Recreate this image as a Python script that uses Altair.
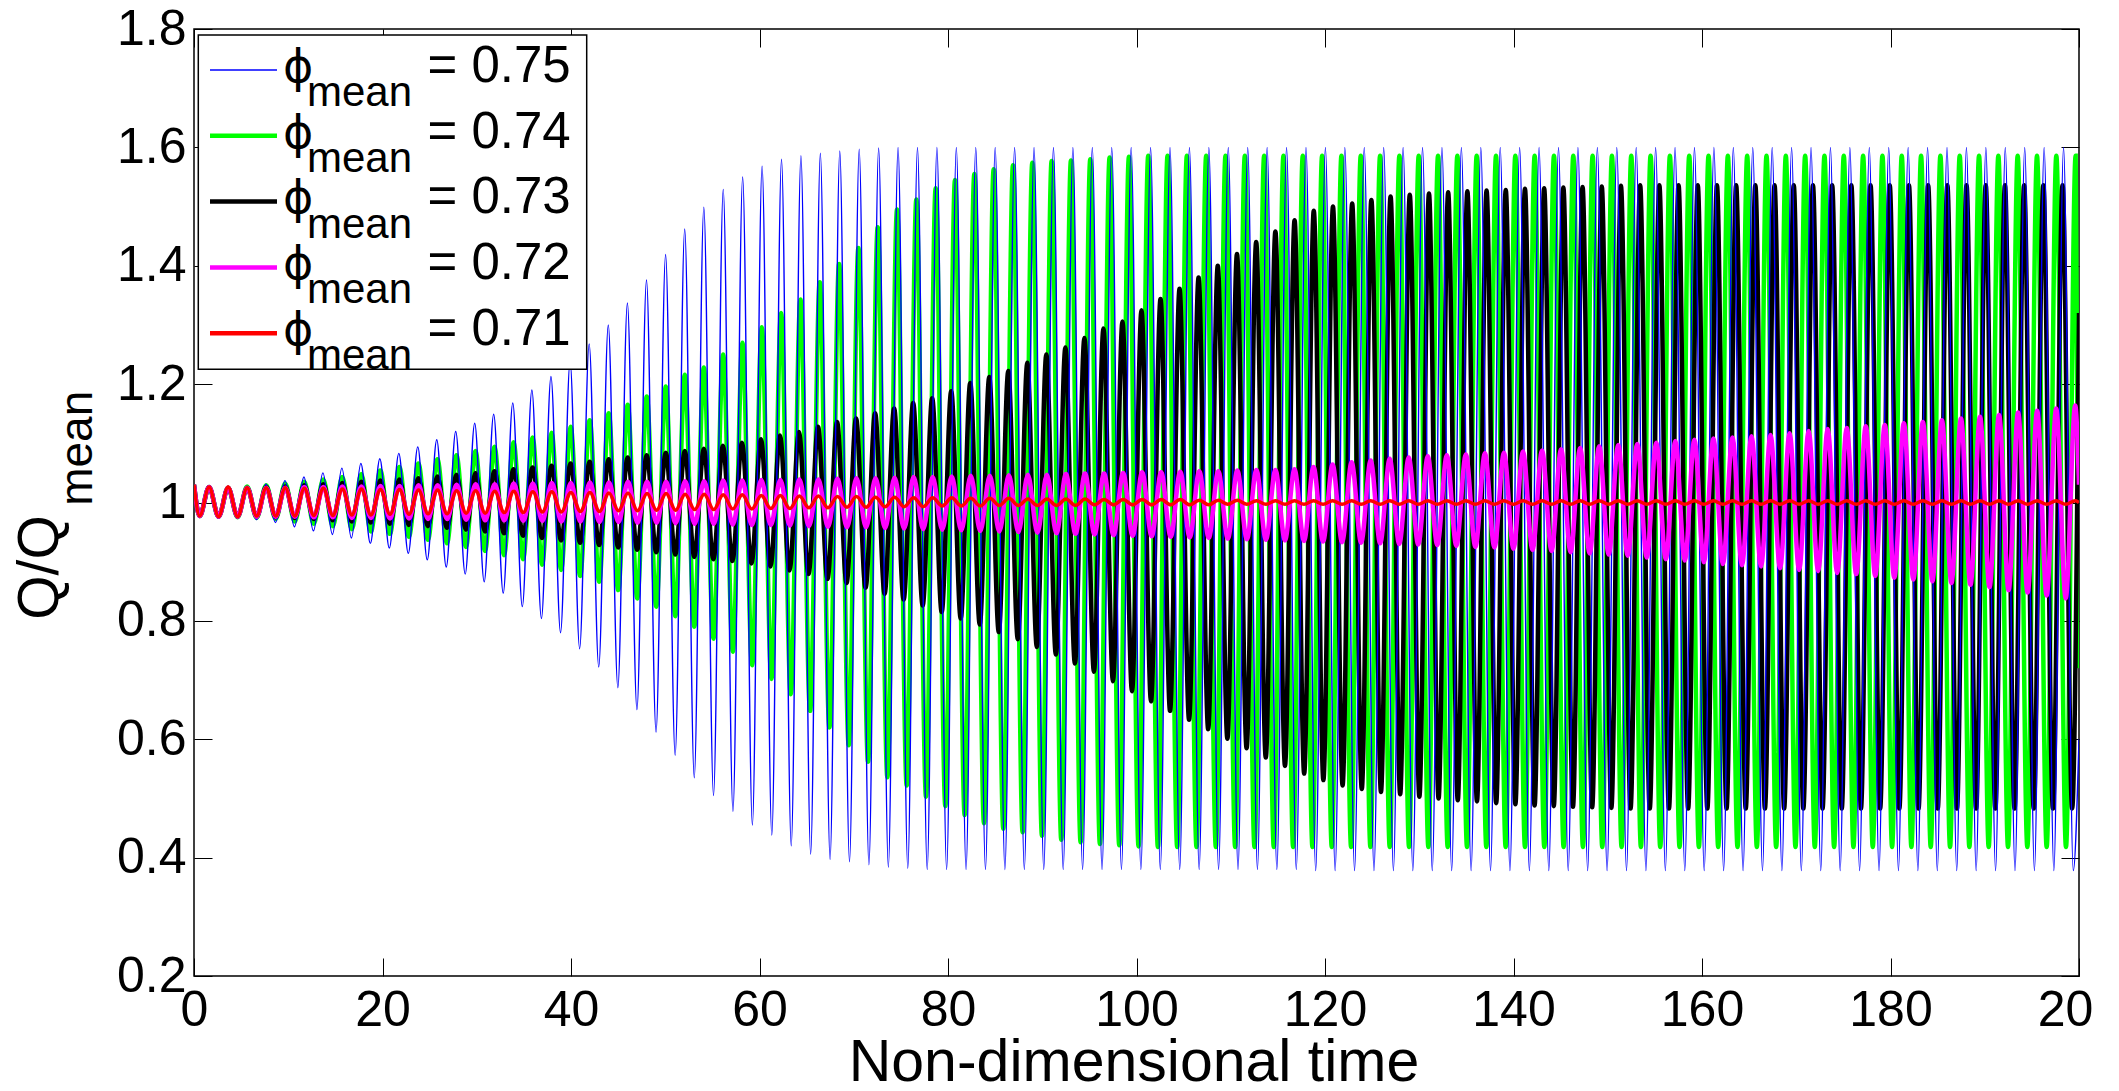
import altair as alt
import pandas as pd

# ---------------- values ----------------
START_T = [0.0, 0.6]          # common start of every run
START_V = [1.03, 0.977]
FIRST_PEAK_T = 1.6

# (number of cycles, period) segments, read from the peak positions
BLUE_PERIODS = [(15, 2.013), (11, 2.027), (70, 2.061)]
GREEN_PERIODS = [(26, 2.019), (71, 2.05)]
BLACK_PERIODS = [(52, 2.019), (45, 2.037)]
MAGENTA_PERIODS = [(98, 2.0204)]
RED_PERIODS = [(98, 2.0204)]

# phi_mean = 0.75 (blue)
BLUE_PEAKS = ([1.026, 1.025, 1.027, 1.031, 1.037, 1.043, 1.050, 1.058, 1.066, 1.074,
               1.083, 1.094, 1.106, 1.120, 1.134, 1.149, 1.168, 1.190, 1.213, 1.238,
               1.268, 1.300, 1.337, 1.376, 1.419, 1.462, 1.499, 1.529, 1.550, 1.568,
               1.580, 1.586, 1.590, 1.594, 1.597, 1.599] + [1.600] * 61)
BLUE_TROUGHS = ([0.976, 0.975, 0.971, 0.966, 0.959, 0.952, 0.946, 0.940, 0.931, 0.923,
                 0.914, 0.903, 0.891, 0.879, 0.866, 0.847, 0.824, 0.804, 0.780, 0.753,
                 0.722, 0.687, 0.650, 0.612, 0.573, 0.535, 0.505, 0.478, 0.455, 0.438,
                 0.420, 0.406, 0.397, 0.393, 0.388, 0.384, 0.382] + [0.380] * 20 + [0.378] * 40)
BLUE_END = 0.60

# phi_mean = 0.74 (green)
GREEN_PEAKS = ([1.026, 1.025, 1.027, 1.029, 1.032, 1.035, 1.039, 1.043, 1.048, 1.054,
                1.060, 1.066, 1.073, 1.080, 1.087, 1.094, 1.102, 1.110, 1.118, 1.128,
                1.139, 1.151, 1.165, 1.179, 1.196, 1.216, 1.228, 1.250, 1.270, 1.296,
                1.320, 1.343, 1.372, 1.403, 1.430, 1.465, 1.495, 1.512, 1.531, 1.545,
                1.555, 1.563, 1.570, 1.574, 1.577, 1.578, 1.580, 1.583, 1.584] + [1.586] * 49)
GREEN_TROUGHS = ([0.976, 0.975, 0.974, 0.972, 0.968, 0.964, 0.960, 0.955, 0.951, 0.947,
                  0.942, 0.937, 0.931, 0.925, 0.918, 0.911, 0.904, 0.895, 0.886, 0.876,
                  0.866, 0.852, 0.838, 0.824, 0.808, 0.790, 0.770, 0.748, 0.725, 0.702,
                  0.676, 0.648, 0.620, 0.590, 0.562, 0.536, 0.522, 0.503, 0.487, 0.472,
                  0.458, 0.449, 0.443, 0.437, 0.430, 0.426, 0.423, 0.421, 0.419] + [0.418] * 49)
GREEN_END = 0.72

# phi_mean = 0.73 (black)
BLACK_PEAKS = ([1.026, 1.025, 1.025, 1.026, 1.027, 1.029, 1.031, 1.033, 1.035, 1.037,
                1.039, 1.041, 1.044, 1.047, 1.050, 1.053, 1.056, 1.059, 1.062, 1.066,
                1.069, 1.073, 1.076, 1.080, 1.084, 1.087, 1.091, 1.096, 1.101, 1.107,
                1.113, 1.119, 1.128, 1.136, 1.142, 1.151, 1.159, 1.168, 1.176, 1.188,
                1.202, 1.212, 1.222, 1.236, 1.250, 1.262, 1.278, 1.294, 1.306, 1.325,
                1.344, 1.361, 1.380, 1.400, 1.420, 1.440, 1.458, 1.477, 1.493, 1.500,
                1.505, 1.511, 1.517, 1.520, 1.522, 1.524, 1.526, 1.527, 1.528, 1.530,
                1.531, 1.532, 1.533, 1.534, 1.535] + [1.536] * 23)
BLACK_TROUGHS = ([0.976, 0.976, 0.976, 0.975, 0.974, 0.972, 0.970, 0.968, 0.966, 0.964,
                  0.962, 0.960, 0.957, 0.954, 0.951, 0.948, 0.944, 0.940, 0.936, 0.932,
                  0.928, 0.924, 0.920, 0.916, 0.912, 0.908, 0.904, 0.901, 0.897, 0.892,
                  0.885, 0.879, 0.871, 0.864, 0.856, 0.846, 0.836, 0.826, 0.815, 0.804,
                  0.794, 0.781, 0.769, 0.756, 0.743, 0.728, 0.714, 0.698, 0.681, 0.664,
                  0.648, 0.633, 0.617, 0.601, 0.585, 0.569, 0.555, 0.542, 0.531, 0.522,
                  0.516, 0.511, 0.507, 0.503, 0.500, 0.497, 0.495, 0.492, 0.490, 0.488,
                  0.487, 0.486, 0.485, 0.484] + [0.483] * 24)
BLACK_END = 1.32

# phi_mean = 0.72 (magenta)
MAGENTA_PEAKS = [1.026, 1.025, 1.025, 1.025, 1.025, 1.026, 1.026, 1.027, 1.027, 1.028,
                 1.028, 1.029, 1.029, 1.030, 1.031, 1.031, 1.032, 1.032, 1.033, 1.033,
                 1.034, 1.034, 1.035, 1.035, 1.035, 1.036, 1.036, 1.037, 1.037, 1.038,
                 1.038, 1.039, 1.039, 1.040, 1.041, 1.041, 1.042, 1.043, 1.043, 1.044,
                 1.045, 1.045, 1.046, 1.047, 1.047, 1.048, 1.049, 1.049, 1.050, 1.051,
                 1.051, 1.052, 1.053, 1.053, 1.054, 1.055, 1.055, 1.056,
                 1.060, 1.064, 1.068, 1.071, 1.074, 1.076, 1.078, 1.080, 1.081, 1.083,
                 1.084, 1.086, 1.088, 1.090, 1.092, 1.095, 1.097, 1.099, 1.101, 1.104,
                 1.106, 1.108, 1.110, 1.112, 1.114, 1.117,
                 1.121, 1.124, 1.126, 1.129, 1.131, 1.134, 1.136, 1.139, 1.142, 1.145,
                 1.148, 1.152, 1.155, 1.159, 1.164]
MAGENTA_TROUGHS = [0.976, 0.976, 0.976, 0.976, 0.976, 0.975, 0.975, 0.974, 0.974, 0.973,
                   0.973, 0.972, 0.972, 0.971, 0.970, 0.970, 0.969, 0.969, 0.968, 0.968,
                   0.967, 0.967, 0.966, 0.966, 0.965, 0.964, 0.964, 0.963, 0.962, 0.962,
                   0.961, 0.960, 0.959, 0.958, 0.958, 0.957, 0.956, 0.955, 0.954, 0.953,
                   0.952, 0.951, 0.950, 0.949, 0.948, 0.947, 0.946, 0.945, 0.944, 0.943,
                   0.942, 0.941, 0.940, 0.939, 0.938, 0.937, 0.936, 0.935,
                   0.934, 0.933, 0.932, 0.931, 0.930, 0.929, 0.928, 0.927, 0.925, 0.924,
                   0.922, 0.920, 0.918, 0.916, 0.914, 0.912, 0.910, 0.907, 0.904, 0.902,
                   0.899, 0.896, 0.894, 0.892, 0.889, 0.886,
                   0.884, 0.881, 0.879, 0.876, 0.873, 0.870, 0.867, 0.864, 0.861, 0.857,
                   0.852, 0.848, 0.843, 0.838, 0.834]
MAGENTA_END = 1.03

# phi_mean = 0.71 (red)
RED_PEAKS = ([1.026, 1.026, 1.025, 1.025, 1.025, 1.024, 1.024, 1.023, 1.023, 1.022,
              1.022, 1.021, 1.021, 1.020, 1.020, 1.019, 1.019, 1.018, 1.018, 1.017,
              1.017, 1.016, 1.016, 1.015, 1.015, 1.014, 1.014, 1.013, 1.013, 1.012,
              1.012, 1.011, 1.011, 1.010, 1.010, 1.009, 1.009, 1.008, 1.008, 1.008,
              1.007, 1.007, 1.007, 1.006, 1.006, 1.006, 1.006, 1.005, 1.005, 1.005,
              1.005, 1.005, 1.004, 1.004, 1.004] + [1.003] * 44)
RED_TROUGHS = ([0.976, 0.976, 0.977, 0.977, 0.977, 0.978, 0.978, 0.979, 0.979, 0.980,
                0.980, 0.981, 0.981, 0.982, 0.982, 0.983, 0.983, 0.984, 0.984, 0.985,
                0.985, 0.986, 0.986, 0.987, 0.987, 0.988, 0.988, 0.989, 0.989, 0.990,
                0.990, 0.991, 0.991, 0.992, 0.992, 0.993, 0.993, 0.993, 0.994, 0.994,
                0.994, 0.995, 0.995, 0.995, 0.995, 0.995, 0.996, 0.996, 0.996, 0.996,
                0.996, 0.996, 0.996, 0.997, 0.997] + [0.997] * 44)
RED_END = 1.0

X_TICKS = [0, 20, 40, 60, 80, 100, 120, 140, 160, 180, 200]
Y_TICKS = [0.2, 0.4, 0.6, 0.8, 1.0, 1.2, 1.4, 1.6, 1.8]
LEGEND_VALUES = ["0.75", "0.74", "0.73", "0.72", "0.71"]
X_TITLE = "Non-dimensional time"
T_END = 200.0


def build(peaks, troughs, periods, end_value):
    times = [FIRST_PEAK_T]
    for count, period in periods:
        for _ in range(count):
            times.append(times[-1] + period)
    rows = list(zip(START_T, START_V))
    last_period = periods[-1][1]
    for i, (tp, pv, tv) in enumerate(zip(times, peaks, troughs)):
        nxt = times[i + 1] if i + 1 < len(times) else tp + last_period
        rows.append((tp, pv))
        rows.append(((tp + nxt) / 2.0, tv))
    rows = [r for r in rows if r[0] < T_END] + [(T_END, end_value)]
    return pd.DataFrame(rows, columns=["t", "v"])


blue_df = build(BLUE_PEAKS, BLUE_TROUGHS, BLUE_PERIODS, BLUE_END)
green_df = build(GREEN_PEAKS, GREEN_TROUGHS, GREEN_PERIODS, GREEN_END)
black_df = build(BLACK_PEAKS, BLACK_TROUGHS, BLACK_PERIODS, BLACK_END)
magenta_df = build(MAGENTA_PEAKS, MAGENTA_TROUGHS, MAGENTA_PERIODS, MAGENTA_END)
red_df = build(RED_PEAKS, RED_TROUGHS, RED_PERIODS, RED_END)

# ---------------- styling ----------------
FONT = "Liberation Sans"
W, H = 1885, 947
TICK = 18
xs = alt.Scale(domain=[0, 200], nice=False, zero=False)
ys = alt.Scale(domain=[0.2, 1.8], nice=False, zero=False)

x_axis = alt.Axis(values=X_TICKS, format="d", orient="bottom", offset=-TICK, tickSize=TICK,
                  domain=False, grid=False, labelFontSize=50, labelFont=FONT,
                  labelColor="black", tickColor="black", tickWidth=1, labelPadding=9,
                  labelFlush=False, labelOverlap=False)
y_axis = alt.Axis(values=Y_TICKS, format="~g", orient="left", offset=-TICK, tickSize=TICK,
                  domain=False, grid=False, labelFontSize=50, labelFont=FONT,
                  labelColor="black", tickColor="black", tickWidth=1, labelPadding=8,
                  labelOverlap=False)
x_top = alt.Axis(values=X_TICKS, orient="top", labels=False, offset=-TICK, tickSize=TICK,
                 domain=False, grid=False, tickColor="black", tickWidth=1)
y_right = alt.Axis(values=Y_TICKS, orient="right", labels=False, offset=-TICK, tickSize=TICK,
                   domain=False, grid=False, tickColor="black", tickWidth=1)


def line_layer(df, color, width, axes=False):
    if axes:
        x = alt.X("t:Q", scale=xs, axis=x_axis, title=None)
        y = alt.Y("v:Q", scale=ys, axis=y_axis, title=None)
    else:
        x = alt.X("t:Q", scale=xs, axis=None)
        y = alt.Y("v:Q", scale=ys, axis=None)
    return alt.Chart(df).mark_line(color=color, strokeWidth=width, interpolate="monotone",
                                   clip=True).encode(x=x, y=y)


layers = [
    line_layer(green_df, "#00FF00", 4.5, axes=True),
    line_layer(black_df, "#000000", 4.5),
    line_layer(blue_df, "#0000FF", 1.4),
    line_layer(magenta_df, "#FF00FF", 4.5),
    line_layer(red_df, "#FF0000", 3.5),
    alt.Chart(green_df).mark_line(strokeOpacity=0).encode(
        x=alt.X("t:Q", scale=xs, axis=x_top, title=None),
        y=alt.Y("v:Q", scale=ys, axis=y_right, title=None)),
]

one = pd.DataFrame({"k": [0]})

# legend
layers.append(alt.Chart(one).mark_rect(fill="white", stroke="black", strokeWidth=1.5).encode(
    x=alt.value(4.3), x2=alt.value(392.7), y=alt.value(6), y2=alt.value(340.3)))
leg_colors = ["#0000FF", "#00FF00", "#000000", "#FF00FF", "#FF0000"]
leg_widths = [1.4, 4.5, 4.5, 4.5, 4.5]
STEP = 65.8
for i, (val, col, wd) in enumerate(zip(LEGEND_VALUES, leg_colors, leg_widths)):
    ly = 41 + STEP * i
    layers.append(alt.Chart(one).mark_rule(color=col, strokeWidth=wd).encode(
        x=alt.value(16), x2=alt.value(83), y=alt.value(ly)))
    layers.append(alt.Chart(one).mark_text(text="\u03d5", font="DejaVu Sans", fontSize=46,
                                           align="left", baseline="alphabetic", color="black").encode(
        x=alt.value(89), y=alt.value(52.7 + STEP * i)))
    layers.append(alt.Chart(one).mark_text(text="mean", font=FONT, fontSize=42,
                                           align="left", baseline="alphabetic", color="black").encode(
        x=alt.value(113), y=alt.value(77 + STEP * i)))
    layers.append(alt.Chart(one).mark_text(text="= " + val, font=FONT, fontSize=51,
                                           align="left", baseline="alphabetic", color="black").encode(
        x=alt.value(233.5), y=alt.value(52.7 + STEP * i)))

# y-axis title  Q/Q_mean
layers.append(alt.Chart(one).mark_text(text="Q/Q", font=FONT, fontSize=57, angle=270,
                                       align="center", baseline="alphabetic", color="black").encode(
    x=alt.value(-136), y=alt.value(538.5)))
layers.append(alt.Chart(one).mark_text(text="mean", font=FONT, fontSize=46, angle=270,
                                       align="center", baseline="alphabetic", color="black").encode(
    x=alt.value(-102), y=alt.value(419.3)))
# x-axis title
layers.append(alt.Chart(one).mark_text(text=X_TITLE, font=FONT, fontSize=59,
                                       align="center", baseline="alphabetic", color="black").encode(
    x=alt.value(940), y=alt.value(1052)))

chart = alt.layer(*layers).resolve_axis(x="independent", y="independent").properties(
    width=W, height=H,
    padding={"left": 186, "top": 21, "right": 14, "bottom": 107},
    autosize=alt.AutoSizeParams(type="none"),
    background="white",
).configure_view(stroke="black", strokeWidth=1.5)

chart.save("out.html", embed_options={"renderer": "svg", "actions": False})
